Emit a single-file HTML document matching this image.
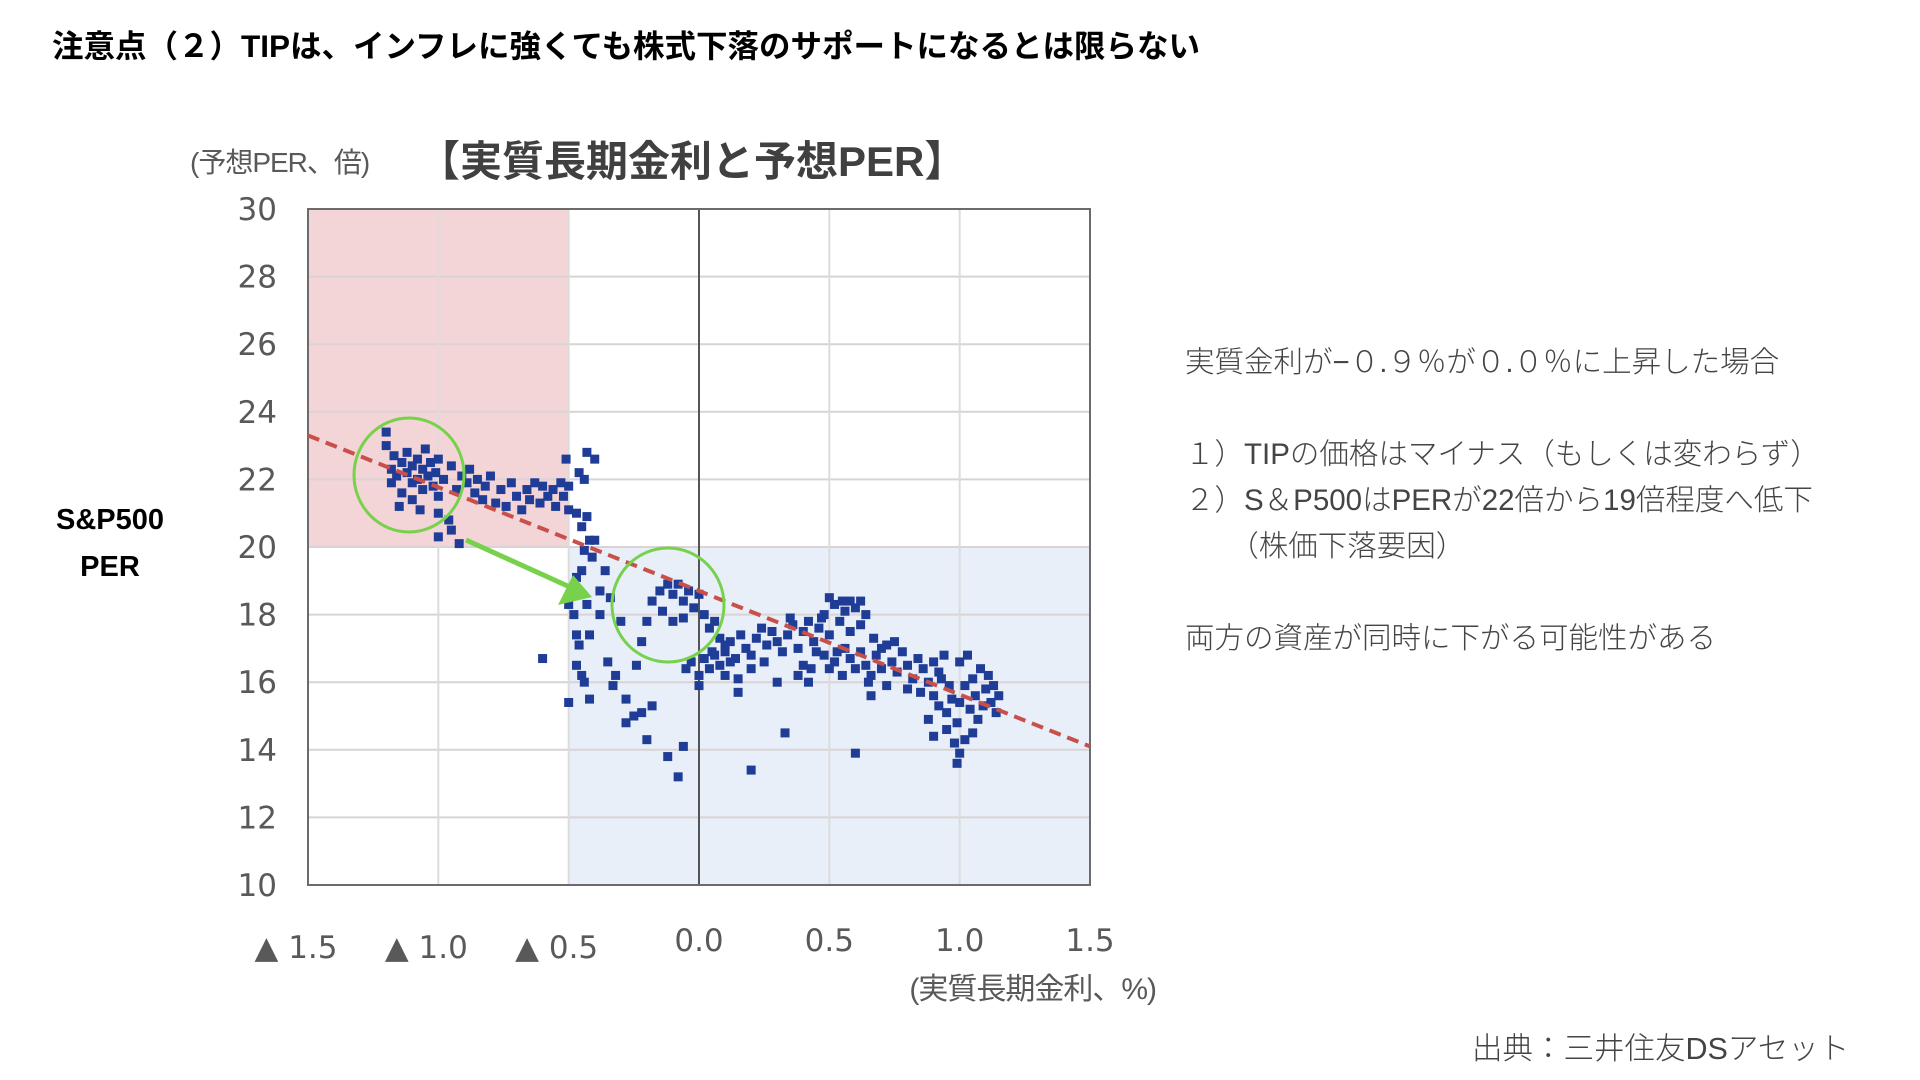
<!DOCTYPE html>
<html><head><meta charset="utf-8"><style>
body{margin:0;width:1920px;height:1080px;background:#fff;overflow:hidden;font-family:"Liberation Sans","Noto Sans CJK JP",sans-serif;}
.t{position:absolute;white-space:nowrap;}
</style></head><body>
<div class="t" style="left:52px;top:21px;font-size:31.5px;font-weight:bold;color:#000;">注意点（２）TIPは、インフレに強くても株式下落のサポートになるとは限らない</div>
<div class="t" style="left:40px;top:497px;width:140px;text-align:center;font-size:29px;font-weight:bold;line-height:47px;color:#000;">S&amp;P500<br>PER</div>
<div class="t" style="left:1185px;top:340px;font-size:29.5px;color:#444;font-weight:300;line-height:46px;">
<div>実質金利が−０.９％が０.０％に上昇した場合</div>
<div style="height:46px"></div>
<div>１）TIPの価格はマイナス（もしくは変わらず）</div>
<div>２）S＆P500はPERが22倍から19倍程度へ低下</div>
<div>　　（株価下落要因）</div>
<div style="height:46px"></div>
<div>両方の資産が同時に下がる可能性がある</div>
</div>
<div class="t" style="left:1472px;top:1024px;font-size:30.5px;color:#444;font-weight:300;">出典：三井住友DSアセット</div>
<svg id="chart" width="1920" height="1080" style="position:absolute;left:0;top:0" xmlns="http://www.w3.org/2000/svg"></svg>
<script>
const yTicks=[10,12,14,16,18,20,22,24,26,28,30];
const xTicks=[-1.5,-1.0,-0.5,0,0.5,1.0,1.5];
const xTickLabels=["▲ 1.5","▲ 1.0","▲ 0.5","0.0","0.5","1.0","1.5"];
const trendStart=[-1.5,23.3];
const trendEnd=[1.5,14.1];
const rateX=[-1.2,-1.2,-1.17,-1.18,-1.16,-1.14,-1.12,-1.12,-1.1,-1.1,-1.08,-1.08,-1.06,-1.06,-1.05,-1.04,-1.03,-1.02,-1.01,-1.0,-1.0,-0.98,-1.14,-1.18,-1.15,-1.1,-1.07,-1.0,-0.96,-0.95,-1.0,-0.92,-0.95,-0.93,-0.91,-0.89,-0.88,-0.86,-0.85,-0.83,-0.82,-0.8,-0.78,-0.76,-0.74,-0.72,-0.7,-0.68,-0.66,-0.65,-0.63,-0.61,-0.6,-0.58,-0.56,-0.55,-0.53,-0.52,-0.51,-0.5,-0.5,
-0.46,-0.43,-0.44,-0.4,-0.47,-0.45,-0.43,-0.42,-0.44,-0.41,-0.4,-0.45,-0.47,-0.48,-0.5,-0.48,-0.43,-0.38,-0.38,-0.46,-0.47,-0.42,-0.36,
-0.6,-0.5,-0.42,-0.47,-0.45,-0.44,-0.35,-0.33,-0.32,-0.28,-0.25,-0.28,-0.2,-0.22,-0.18,-0.3,-0.34,-0.2,-0.22,-0.24,-0.12,-0.08,-0.06,0.2,0.33,0.6,0.15,
-0.18,-0.15,-0.12,-0.1,-0.08,-0.06,-0.04,-0.02,0.0,-0.14,-0.1,-0.06,0.02,0.04,0.06,0.08,0.05,0.1,0.12,
-0.05,-0.03,0.0,0.02,0.04,0.06,0.08,0.1,0.12,0.14,0.16,0.18,0.2,0.22,0.24,0.26,0.28,0.3,0.32,0.34,0.36,0.0,0.1,0.2,0.3,0.25,0.15,
0.38,0.4,0.42,0.44,0.46,0.48,0.5,0.52,0.54,0.56,0.58,0.6,0.62,0.64,0.5,0.55,0.45,0.4,0.38,0.42,0.48,0.52,0.56,0.47,0.58,0.62,0.35,0.43,
0.5,0.53,0.55,0.58,0.6,0.62,0.64,0.66,0.68,0.7,0.72,0.74,0.76,0.78,0.8,0.82,0.84,0.86,0.88,0.9,0.92,0.94,0.96,0.7,0.75,0.65,0.72,0.8,0.85,0.9,0.67,0.66,
0.92,0.95,0.97,0.99,1.0,1.02,1.04,1.05,1.06,1.07,1.08,1.09,1.1,1.11,1.12,1.13,1.14,1.0,1.03,0.88,0.9,0.95,0.98,1.0,1.05,1.02,0.99,0.93,1.15];
const perY=[23.4,23.0,22.7,22.3,22.1,22.5,22.8,22.2,21.9,22.4,22.6,22.0,22.3,21.7,22.9,22.1,22.5,21.8,22.2,22.6,21.5,22.0,21.6,21.9,21.2,21.4,21.1,21.0,20.8,20.5,20.3,20.1,22.4,21.7,22.1,21.9,22.3,21.6,22.0,21.4,21.8,22.1,21.3,21.7,21.2,21.9,21.5,21.1,21.7,21.4,21.9,21.3,21.8,21.5,21.7,21.2,21.9,21.5,22.6,21.1,21.8,
22.2,22.8,22.0,22.6,21.0,20.6,20.9,20.2,19.9,19.7,20.2,19.3,19.1,18.6,18.3,18.0,18.3,18.7,18.0,17.1,17.4,17.4,19.3,
16.7,15.4,15.5,16.5,16.2,16.0,16.6,15.9,16.2,15.5,15.0,14.8,14.3,15.1,15.3,17.8,18.5,17.8,17.2,16.5,13.8,13.2,14.1,13.4,14.5,13.9,15.7,
18.4,18.7,18.9,18.6,18.9,18.4,18.7,18.2,18.6,18.1,17.8,17.9,18.0,17.6,17.8,17.3,16.9,17.1,16.6,
16.4,16.6,16.2,16.7,16.4,16.8,16.5,16.9,17.2,16.7,17.4,17.0,16.8,17.3,17.6,17.1,17.5,17.2,16.9,17.4,17.7,15.9,16.2,16.4,16.0,16.6,16.1,
17.0,17.5,17.8,17.2,17.6,18.0,17.4,18.3,17.8,18.1,17.5,18.2,17.7,18.0,18.5,18.4,16.9,16.5,16.2,16.0,16.8,16.6,17.0,17.9,18.4,18.4,17.9,16.4,
16.4,16.9,16.2,16.7,16.4,16.9,16.5,16.2,16.8,16.4,17.1,16.6,16.3,16.9,16.5,16.1,16.7,16.4,16.0,16.6,16.3,16.8,15.9,17.0,17.2,16.0,15.9,15.8,15.7,15.6,17.3,15.6,
15.3,15.1,15.5,14.8,15.4,15.9,15.2,16.1,15.6,14.9,16.4,15.3,15.8,16.2,15.4,15.9,15.1,16.6,16.8,14.9,14.4,14.6,14.2,13.9,14.5,14.3,13.6,16.1,15.6];

const L=308,R=1090,T=209,B=885,XMIN=-1.5,XMAX=1.5,YMIN=10,YMAX=30;
const sx=v=>L+(v-XMIN)/(XMAX-XMIN)*(R-L);
const sy=v=>B-(v-YMIN)/(YMAX-YMIN)*(B-T);
const svg=document.getElementById('chart');
const NS='http://www.w3.org/2000/svg';
function mk(tag,attrs,parent){const e=document.createElementNS(NS,tag);for(const k in attrs)e.setAttribute(k,attrs[k]);(parent||svg).appendChild(e);return e;}

let e;
e=mk('text',{x:190,y:172,'font-size':28,fill:'#595959','letter-spacing':'-1','font-family':'Liberation Sans, Noto Sans CJK JP, sans-serif'});
e.textContent='(予想PER、倍)';


e=mk('text',{x:418,y:176,'font-size':42,'font-weight':'bold',fill:'#404040','font-family':'Liberation Sans, Noto Sans CJK JP, sans-serif'});
e.textContent='【実質長期金利と予想PER】';



e=mk('rect',{x:sx(-1.5),y:sy(30),width:sx(-0.5)-sx(-1.5),height:sy(20)-sy(30),fill:'#f4d5d7'});


e=mk('rect',{x:sx(-0.5),y:sy(20),width:sx(1.5)-sx(-0.5),height:sy(10)-sy(20),fill:'#e8eff9'});



yTicks.forEach(v=>{
  if(v>10&&v<30){const g=mk('line',{x1:L,x2:R,y1:sy(v),y2:sy(v),stroke:'#d9d3d6','stroke-width':2});
  
  }
  const t=mk('text',{x:277,y:sy(v)+11,'text-anchor':'end','font-size':31,fill:'#595959','font-family':'DejaVu Sans, sans-serif'});
  t.textContent=v;
  
  
});
xTicks.forEach((v,i)=>{
  if(v>-1.5&&v<1.5){const g=mk('line',{x1:sx(v),x2:sx(v),y1:T,y2:B,stroke:v===0?'#555':'#dcdcdc','stroke-width':2});
  
  }
  const t=mk('text',{x:sx(v)+(v<0?-12:0),y:v<0?958:951,'text-anchor':'middle','font-size':31,fill:'#595959','font-family':'DejaVu Sans, Noto Sans CJK JP, sans-serif'});
  t.textContent=xTickLabels[i];
  
  
});
e=mk('rect',{x:L,y:T,width:R-L,height:B-T,fill:'none',stroke:'#6b6b6b','stroke-width':2});


e=mk('text',{x:1156,y:999,'text-anchor':'end','font-size':30,fill:'#595959','letter-spacing':'-1','font-family':'Liberation Sans, Noto Sans CJK JP, sans-serif'});
e.textContent='(実質長期金利、%)';



rateX.forEach((x,i)=>{
  const p=mk('rect',{x:sx(x)-4.5,y:sy(perY[i])-4.5,width:9,height:9,fill:'#1f3d96'});
  
  
});

e=mk('line',{x1:sx(trendStart[0]),y1:sy(trendStart[1]),x2:sx(trendEnd[0]),y2:sy(trendEnd[1]),stroke:'#c9504a','stroke-width':4,'stroke-dasharray':'12 7'});



e=mk('ellipse',{cx:409,cy:475,rx:55,ry:57,fill:'none',stroke:'#77d14b','stroke-width':3});


e=mk('ellipse',{cx:668,cy:605,rx:56,ry:57,fill:'none',stroke:'#77d14b','stroke-width':3});


e=mk('line',{x1:466,y1:540,x2:572,y2:588,stroke:'#77d14b','stroke-width':5});


e=mk('polygon',{points:'592,597 558,605 573,575',fill:'#77d14b'});


</script>
</body></html>
